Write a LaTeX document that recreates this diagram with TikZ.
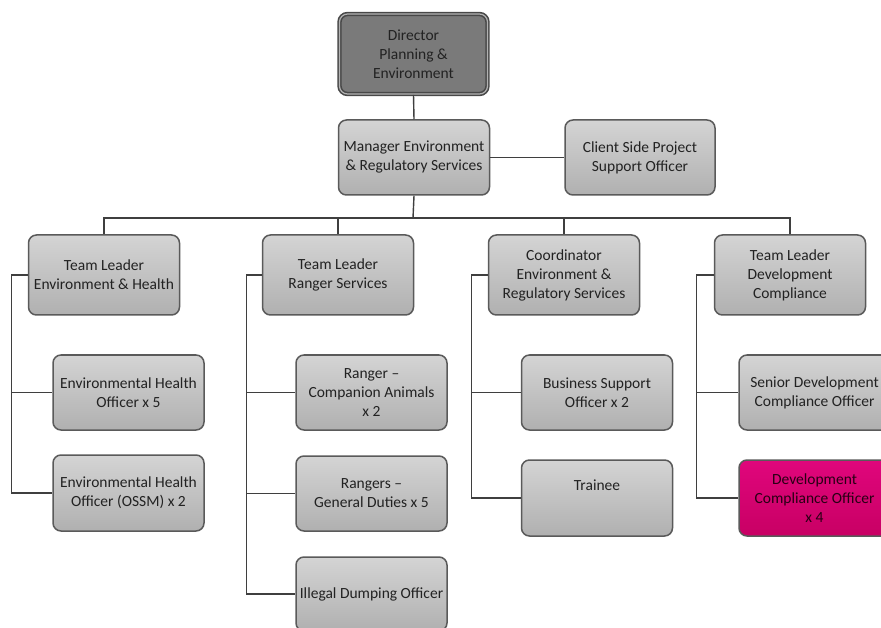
\documentclass[tikz,border=0pt]{standalone}
\usepackage{fontspec}
\setmainfont{Carlito}
\usetikzlibrary{calc}
\definecolor{bordergray}{HTML}{5A5A5A}
\definecolor{linegray}{HTML}{3F3F3F}
\definecolor{txtgray}{HTML}{222222}
\definecolor{boxtop}{HTML}{D4D4D4}
\definecolor{boxbot}{HTML}{B0B0B0}
\definecolor{dirfill}{HTML}{7A7A7A}
\definecolor{magtop}{HTML}{E0067C}
\definecolor{magbot}{HTML}{C80064}
\tikzset{
  orgbox/.style={draw=bordergray, line width=1.5pt, rounded corners=8pt,
    top color=boxtop, bottom color=boxbot, minimum width=151pt, minimum height=75pt,
    align=center, font=\fontsize{15.5}{19}\selectfont, text=txtgray, inner xsep=0pt, inner ysep=2pt},
  dirbox/.style={orgbox, top color=dirfill, bottom color=dirfill, draw=bordergray!80!black,
    double=gray!60, double distance=1.2pt, line width=1.6pt, minimum width=148pt, minimum height=80pt},
  magbox/.style={orgbox, top color=magtop, bottom color=magbot, draw=bordergray, text=black!80!magbot},
  conn/.style={draw=linegray, line width=1.4pt}
}
\begin{document}
\begin{tikzpicture}[x=1pt,y=-1pt]
\path[use as bounding box] (0,0) rectangle (881,628);
\clip (0,0) rectangle (881,628);
\fill[white] (0,0) rectangle (881,628);

\node[dirbox] (dir) at (413.5,54) {Director\\Planning \&\\Environment};
\node[orgbox] (mgr) at (414,157.5) {Manager Environment\\\& Regulatory Services};
\node[orgbox, minimum width=150pt] (cs) at (640,157.5) {Client Side Project\\Support Officer};

\node[orgbox, minimum height=80pt] (teh) at (104,275) {Team Leader\\Environment \& Health};
\node[orgbox, minimum height=80pt] (trs) at (338,275) {Team Leader\\Ranger Services};
\node[orgbox, minimum height=80pt] (cer) at (564,275) {Coordinator\\Environment \&\\Regulatory Services};
\node[orgbox, minimum height=80pt] (tdc) at (790,275) {Team Leader\\Development\\Compliance};

\node[orgbox] (eho5) at (128.5,392.5) {Environmental Health\\Officer x 5};
\node[orgbox, minimum height=76pt] (ehoo) at (128.5,493) {Environmental Health\\Officer (OSSM) x 2};

\node[orgbox] (rca) at (371.5,392.5) {Ranger –\\Companion Animals\\x 2};
\node[orgbox] (rgd) at (371.5,493.5) {Rangers –\\General Duties x 5};
\node[orgbox, minimum height=74pt] (ido) at (371.5,594) {Illegal Dumping Officer};

\node[orgbox] (bso) at (597,392.5) {Business Support\\Officer x 2};
\node[orgbox, minimum height=76pt] (trn) at (597,498) {Trainee\\\strut};

\node[orgbox] (sdc) at (814.5,392.5) {Senior Development\\Compliance Officer};
\node[magbox, minimum height=76pt] (dco) at (814.5,498) {Development\\Compliance Officer\\x 4};

% top connectors
\draw[conn] (dir.south) -- (mgr.north);
\draw[conn] (mgr.east) -- (cs.west);
\coordinate (bus) at (413,218);
\draw[conn] (mgr.south) -- (bus);
\draw[conn] (teh.north) |- (bus) -| (tdc.north);
\draw[conn] (trs.north) -- (trs.north |- bus);
\draw[conn] (cer.north) -- (cer.north |- bus);

% spines
\coordinate (s1) at ($(teh.west)+(-16,0)$);
\draw[conn] (teh.west) -- (s1) |- (ehoo.west);
\draw[conn] (s1) |- (eho5.west);

\coordinate (s2) at ($(trs.west)+(-15,0)$);
\draw[conn] (trs.west) -- (s2) |- (ido.west);
\draw[conn] (s2) |- (rca.west);
\draw[conn] (s2) |- (rgd.west);

\coordinate (s3) at ($(cer.west)+(-16,0)$);
\draw[conn] (cer.west) -- (s3) |- (trn.west);
\draw[conn] (s3) |- (bso.west);

\coordinate (s4) at ($(tdc.west)+(-17,0)$);
\draw[conn] (tdc.west) -- (s4) |- (dco.west);
\draw[conn] (s4) |- (sdc.west);
\end{tikzpicture}
\end{document}
